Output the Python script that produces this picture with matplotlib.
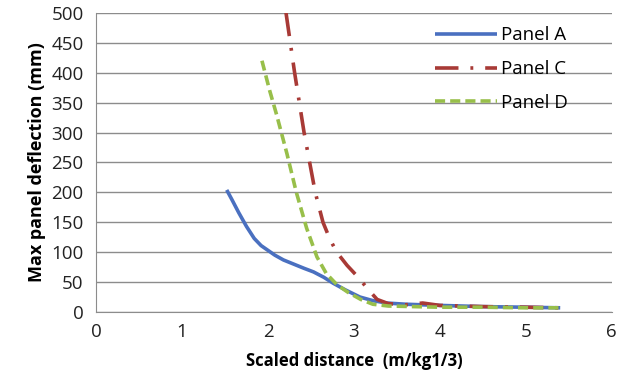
import matplotlib.pyplot as plt

# scaled distance (m/kg^1/3) vs max panel deflection (mm)
panel_a_x = [1.52, 1.58, 1.66, 1.75, 1.84, 1.92, 1.99, 2.08, 2.18, 2.30, 2.42, 2.53, 2.65, 2.76, 2.90, 3.07, 3.22, 3.38, 3.6, 4.0, 4.5, 5.0, 5.4]
panel_a_y = [204, 188, 166, 143, 123, 111, 104, 95, 87, 80, 73, 67, 58, 48, 37, 25, 19, 15, 13, 11, 9, 8, 7]

panel_c_x = [2.21, 2.31, 2.42, 2.55, 2.64, 2.72, 2.80, 2.92, 3.05, 3.17, 3.27, 3.4, 3.6, 3.8, 4.0, 4.5, 5.0, 5.4]
panel_c_y = [500, 400, 300, 200, 150, 122, 100, 78, 58, 37, 21, 14, 12, 15, 11, 9, 8, 7]

panel_d_x = [1.93, 2.02, 2.10, 2.22, 2.33, 2.45, 2.57, 2.68, 2.80, 2.93, 3.08, 3.22, 3.4, 3.7, 4.0, 4.5, 5.0, 5.4]
panel_d_y = [420, 370, 330, 265, 200, 140, 92, 64, 46, 33, 21, 13, 10, 9, 8, 8, 7, 7]

x_ticks = [0, 1, 2, 3, 4, 5, 6]
y_ticks = list(range(0, 501, 50))

plt.rcParams['font.family'] = ['Open Sans', 'DejaVu Sans']

fig = plt.figure(figsize=(6.32, 3.84), dpi=100)
ax = fig.add_axes([0.152, 0.1875, 0.816, 0.779])

ax.plot(panel_a_x, panel_a_y, color='#4A70C0', lw=2.6, label='Panel A', solid_capstyle='butt')
ax.plot(panel_c_x, panel_c_y, color='#A83A36', lw=2.6, label='Panel C',
        dashes=(6.5, 3.3, 0.8, 3.3), dash_capstyle='butt')
ax.plot(panel_d_x, panel_d_y, color='#98BF4A', lw=2.6, label='Panel D',
        dashes=(2.8, 1.4))

ax.set_xlim(0, 6)
ax.set_ylim(0, 500)
ax.set_xticks(x_ticks)
ax.set_yticks(y_ticks)
ax.yaxis.grid(True, color='#8c8c8c', lw=1)
ax.set_axisbelow(True)
for side in ['top', 'right']:
    ax.spines[side].set_visible(False)
ax.spines['left'].set_color('#8c8c8c')
ax.spines['bottom'].set_color('#8c8c8c')
ax.tick_params(axis='both', length=0, labelsize=13.5, colors='#222222')
ax.tick_params(axis='y', pad=9)
ax.tick_params(axis='x', pad=8)

ax.set_xlabel('Scaled distance  (m/kg1/3)', fontsize=12, fontweight='bold', labelpad=8)
ax.set_ylabel('Max panel deflection (mm)', fontsize=13, fontweight='bold', labelpad=4)

ax.legend(loc='upper right', bbox_to_anchor=(0.948, 1.012), frameon=False, fontsize=13.5,
          handlelength=3.3, handletextpad=0.25, labelspacing=0.85)

fig.savefig('out.png', dpi=100)
